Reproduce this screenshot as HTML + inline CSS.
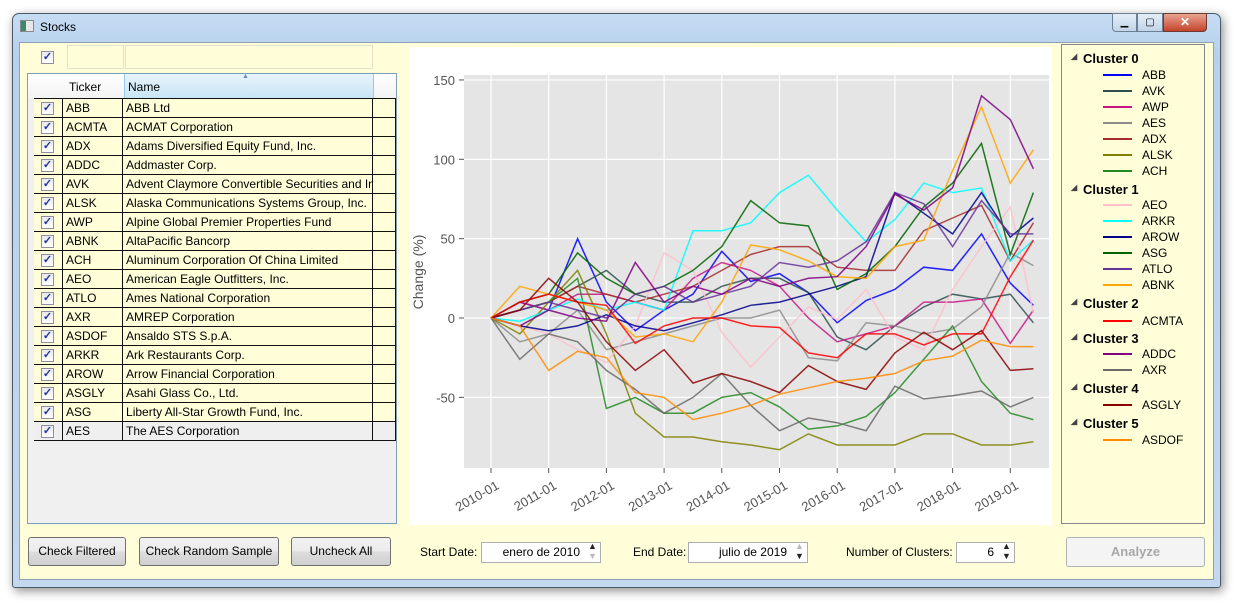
<!DOCTYPE html>
<html><head><meta charset="utf-8"><style>
*{box-sizing:border-box}
body{margin:0;width:1234px;height:603px;background:#fff;font-family:"Liberation Sans",sans-serif;font-size:12px;position:relative;overflow:hidden}
.abs{position:absolute}
#frame{left:12px;top:13px;width:1209px;height:575px;border:1px solid #4a5a6a;border-radius:7px 7px 3px 3px;background:linear-gradient(#c5dcf3,#b7d1ec 40px,#c3d8ee);box-shadow:2px 3px 10px rgba(0,0,0,.45)}
#client{left:19px;top:42px;width:1195px;height:538px;background:#fffed9;border:1px solid #8da2b8}
.cb{width:13px;height:13px;border:1px solid #8f8f9f;background:linear-gradient(#e8e8ee,#fff);font-size:11px;line-height:11px;text-align:center;color:#223399;font-weight:bold}
table{border-collapse:collapse;font-size:12px}
td{border:1px solid #111;height:19px;padding:0 0 0 3px;white-space:nowrap;overflow:hidden}
.btn{border:1px solid #707070;border-radius:3px;background:linear-gradient(#f2f2f2,#ebebeb 50%,#dddddd 51%,#cfcfcf);text-align:center;line-height:27px;font-size:12px}
.spin{border:1px solid #abadb3;background:#fff;height:21px;text-align:right;padding-right:20px;line-height:19px;font-size:12px}
.lg{font-size:12px}
</style></head><body>
<div id="frame" class="abs"></div>
<div class="abs" style="left:20px;top:20px;width:14px;height:12px;background:linear-gradient(90deg,#3a8a6a 40%,#e8e8e8 40%);border:1px solid #888"></div>
<div class="abs" style="left:40px;top:20px;font-size:12px">Stocks</div>
<div class="abs" style="left:1112px;top:13px;width:25px;height:19px;border:1px solid #6d7f93;border-radius:0 0 0 4px;background:linear-gradient(#e4eef8,#c2d4e8);text-align:center;font-size:10px;line-height:17px">▁</div>
<div class="abs" style="left:1137px;top:13px;width:26px;height:19px;border:1px solid #6d7f93;background:linear-gradient(#e4eef8,#c2d4e8);text-align:center;font-size:10px;line-height:17px">▢</div>
<div class="abs" style="left:1163px;top:13px;width:44px;height:19px;border:1px solid #6d3a30;border-radius:0 0 4px 0;background:linear-gradient(#e8a490,#c5442c);color:#fff;text-align:center;font-weight:bold;line-height:17px">✕</div>
<div id="client" class="abs"></div>

<div class="abs cb" style="left:41px;top:51px">✓</div>
<div class="abs" style="left:67px;top:45px;width:57px;height:24px;border:1px solid #e2e2c8"></div>
<div class="abs" style="left:125px;top:45px;width:248px;height:24px;border:1px solid #e2e2c8"></div>

<div class="abs" style="left:27px;top:73px;width:370px;height:451px;border:1px solid #7f9db9;background:#f0f0f0">
<div class="abs" style="left:0;top:0;width:368px;height:24px;background:linear-gradient(#fff,#f3f3f3)"></div>
<div class="abs" style="left:41px;top:6px">Ticker</div>
<div class="abs" style="left:96px;top:0;width:250px;height:24px;background:linear-gradient(#e8f4fb,#c9e5f6);border-left:1px solid #96c9ea;border-right:1px solid #96c9ea;padding:6px 0 0 3px">Name</div>
<div class="abs" style="left:214px;top:-1px;font-size:7px;color:#6a8fb0">▲</div>
<table class="abs" style="left:6px;top:24px" id="tbl"></table>
</div>

<div class="abs btn" style="left:28px;top:537px;width:98px;height:29px">Check Filtered</div>
<div class="abs btn" style="left:139px;top:537px;width:140px;height:29px">Check Random Sample</div>
<div class="abs btn" style="left:291px;top:537px;width:100px;height:29px">Uncheck All</div>

<div class="abs" style="left:409px;top:47px;width:643px;height:478px;background:#fff">
<svg id="chart" width="643" height="478" style="position:absolute;left:0;top:0"></svg>
</div>

<div class="abs" style="left:420px;top:545px">Start Date:</div>
<div class="abs spin" style="left:481px;top:542px;width:120px">enero de 2010</div>
<div class="abs" style="left:588px;top:541px;font-size:9px;line-height:10px;color:#222">▲<br><span style="color:#bbb">▼</span></div>
<div class="abs" style="left:633px;top:545px">End Date:</div>
<div class="abs spin" style="left:688px;top:542px;width:120px">julio de 2019</div>
<div class="abs" style="left:795px;top:541px;font-size:9px;line-height:10px;color:#222"><span style="color:#bbb">▲</span><br>▼</div>
<div class="abs" style="left:846px;top:545px">Number of Clusters:</div>
<div class="abs spin" style="left:956px;top:542px;width:59px">6</div>
<div class="abs" style="left:1002px;top:541px;font-size:9px;line-height:10px;color:#222">▲<br>▼</div>

<div class="abs" style="left:1061px;top:44px;width:144px;height:480px;border:1px solid #828790" id="legend"></div>
<div class="abs" style="left:1066px;top:537px;width:139px;height:30px;border:1px solid #adb2b5;border-radius:3px;background:#f4f4f4;color:#a8a8a8;font-weight:bold;text-align:center;line-height:28px;font-size:13px">Analyze</div>

<script>
const tickers=["ABB","ACMTA","ADX","ADDC","AVK","ALSK","AWP","ABNK","ACH","AEO","ATLO","AXR","ASDOF","ARKR","AROW","ASGLY","ASG","AES"];
const names=["ABB Ltd","ACMAT Corporation","Adams Diversified Equity Fund, Inc.","Addmaster Corp.","Advent Claymore Convertible Securities and Ir","Alaska Communications Systems Group, Inc.","Alpine Global Premier Properties Fund","AltaPacific Bancorp","Aluminum Corporation Of China Limited","American Eagle Outfitters, Inc.","Ames National Corporation","AMREP Corporation","Ansaldo STS S.p.A.","Ark Restaurants Corp.","Arrow Financial Corporation","Asahi Glass Co., Ltd.","Liberty All-Star Growth Fund, Inc.","The AES Corporation"];
const tbl=document.getElementById('tbl');
tickers.forEach((t,i)=>{
  const tr=document.createElement('tr');
  
  
  tr.style.background=i==17?'#efefef':'#fffed9';
  tr.innerHTML='<td style="width:29px;border-left:none;padding:0 0 0 7px"><div class="cb">✓</div></td><td style="width:61px">'+t+'</td><td style="width:249px">'+names[i]+'</td><td style="width:24px"></td>';
  tbl.appendChild(tr);
});

// chart data (percent change), sampled every 6 months from 2010-01
const dates=[0,0.5,1,1.5,2,2.5,3,3.5,4,4.5,5,5.5,6,6.5,7,7.5,8,8.5,9,9.4];
const sABB=[0,10,5,50,10,-8,5,15,42,23,28,16,-3,11,18,32,30,53,22,8];
const sAVK=[0,5,10,20,30,15,10,10,20,25,25,16,-12,-20,-5,7,15,12,15,-3];
const sAWP=[0,10,5,15,15,10,5,25,35,30,20,0,-15,-10,-5,10,10,12,-16,5];
const sAES=[0,-15,-10,5,-20,-15,-10,-5,0,0,5,-25,-27,-3,-5,-10,-7,7,41,33];
const sADX=[0,5,10,20,15,10,15,20,30,40,45,45,32,30,30,55,63,71,36,60];
const sALSK=[0,-10,10,30,-10,-60,-75,-75,-78,-80,-83,-73,-80,-80,-80,-73,-73,-80,-80,-78];
const sACH=[0,5,10,25,-57,-50,-60,-60,-50,-47,-56,-70,-68,-62,-47,-26,-5,-40,-60,-64];
const sAEO=[0,-5,-10,-20,-28,-5,41,30,-9,-31,-12,7,-1,18,-12,-20,18,45,70,3];
const sARKR=[0,-2,5,12,5,10,5,55,55,60,79,90,68,48,62,85,79,82,36,49];
const sAROW=[0,-5,-8,-5,2,-5,-8,-3,2,8,10,15,20,26,79,66,53,79,51,63];
const sASG=[0,10,15,41,25,15,20,30,45,74,60,58,18,28,45,70,85,110,40,79];
const sATLO=[0,5,10,5,0,15,20,10,15,20,35,32,36,48,79,72,45,74,53,53];
const sABNK=[0,20,15,10,5,-12,-10,-15,10,46,43,36,26,25,45,49,93,133,85,106];
const sACMTA=[0,10,15,10,8,-16,-5,0,0,-5,-6,-22,-25,-10,-10,-17,-10,-10,26,49];
const sADDC=[0,-5,5,0,-2,35,10,20,15,25,20,25,26,45,78,68,82,140,125,94];
const sAXR=[0,-26,-10,-15,-33,-45,-60,-50,-35,-55,-71,-63,-66,-71,-43,-51,-49,-46,-56,-50];
const sASGLY=[0,5,25,10,-15,-33,-20,-41,-35,-40,-47,-30,-40,-45,-22,-9,-20,-8,-33,-32];
const sASDOF=[0,-5,-33,-21,-25,-47,-50,-64,-60,-55,-48,-44,-40,-38,-35,-27,-24,-14,-18,-18];
const yTicks=[-50,0,50,100,150];
const xTickLabels=["2010-01","2011-01","2012-01","2013-01","2014-01","2015-01","2016-01","2017-01","2018-01","2019-01"];

const series=[
 ["ABB",sABB,"#0000ff"],["AVK",sAVK,"#2f4f4f"],["AWP",sAWP,"#c71585"],["AES",sAES,"#8c8c8c"],
 ["ADX",sADX,"#a52a2a"],["ALSK",sALSK,"#808000"],["ACH",sACH,"#228b22"],
 ["AEO",sAEO,"#ffc0cb"],["ARKR",sARKR,"#00ffff"],["AROW",sAROW,"#00008b"],["ASG",sASG,"#006400"],["ATLO",sATLO,"#663399"],["ABNK",sABNK,"#ffa500"],
 ["ACMTA",sACMTA,"#ff0000"],["ADDC",sADDC,"#800080"],["AXR",sAXR,"#696969"],["ASGLY",sASGLY,"#8b0000"],["ASDOF",sASDOF,"#ff8c00"]];

const NS="http://www.w3.org/2000/svg";
const svg=document.getElementById('chart');
const PL=55,PT=28,PR=640,PB=421;
const X=t=>82+t*57.7;
const Y=v=>271-v*1.587;
function mk(tag,attrs,parent){const e=document.createElementNS(NS,tag);for(const k in attrs)e.setAttribute(k,attrs[k]);(parent||svg).appendChild(e);return e;}
const bg=mk('rect',{x:PL,y:PT,width:PR-PL,height:PB-PT,fill:'#e5e5e5'});


yTicks.forEach(v=>{
  const g=mk('line',{x1:PL,x2:PR,y1:Y(v),y2:Y(v),stroke:'#fff','stroke-width':1.2});
  
  
  mk('line',{x1:PL-5,x2:PL,y1:Y(v),y2:Y(v),stroke:'#555'});
  const t=mk('text',{x:PL-9,y:Y(v)+5,'text-anchor':'end','font-size':13,fill:'#555','font-family':'Liberation Sans, sans-serif'});
  t.textContent=v;
  
  
});
xTickLabels.forEach((lab,i)=>{
  const x=X(i);
  const g=mk('line',{x1:x,x2:x,y1:PT,y2:PB,stroke:'#fff','stroke-width':1.2});
  
  
  mk('line',{x1:x,x2:x,y1:PB,y2:PB+5,stroke:'#555'});
  const t=mk('text',{x:x+9,y:PB+20,'text-anchor':'end','font-size':13,fill:'#555','font-family':'Liberation Sans, sans-serif',transform:'rotate(-30 '+(x+9)+' '+(PB+20)+')'});
  t.textContent=lab;
  
  
});
const yl=mk('text',{x:14,y:225,'text-anchor':'middle','font-size':14,fill:'#555','font-family':'Liberation Sans, sans-serif',transform:'rotate(-90 14 225)'});
yl.textContent='Change (%)';


series.forEach(([name,vals,col])=>{
  const pts=vals.map((v,i)=>X(dates[i]).toFixed(1)+','+Y(v).toFixed(1)).join(' ');
  const p=mk('polyline',{points:pts,fill:'none',stroke:col,'stroke-width':1.5,'stroke-opacity':0.85});
  
  
});

const clusters=[["Cluster 0",[0,1,2,3,4,5,6]],["Cluster 1",[7,8,9,10,11,12]],["Cluster 2",[13]],["Cluster 3",[14,15]],["Cluster 4",[16]],["Cluster 5",[17]]];
const lgY=[[6,[23,39,55,71,87,103,119]],[137,[153,169,185,201,217,233]],[251,[269]],[286,[302,318]],[336,[353]],[371,[388]]];
const leg=document.getElementById('legend');
clusters.forEach(([cn,idx],ci)=>{
  const h=document.createElement('div');
  h.className='abs';h.style.cssText='left:21px;top:'+lgY[ci][0]+'px;font-weight:bold;font-size:13px';
  h.innerHTML='<span style="position:absolute;left:-12px;top:1px;font-size:8px;color:#444">◢</span>'+cn;
  
  
  leg.appendChild(h);
  idx.forEach((si,k)=>{
    const e=document.createElement('div');
    e.className='abs lg';e.style.cssText='left:41px;top:'+lgY[ci][1][k]+'px;width:100px;height:15px';
    e.innerHTML='<span style="position:absolute;left:0;top:6px;width:29px;height:2px;background:'+series[si][2]+'"></span><span style="position:absolute;left:39px;top:0">'+series[si][0]+'</span>';
    
    
    leg.appendChild(e);
  });
});
</script>
</body></html>
